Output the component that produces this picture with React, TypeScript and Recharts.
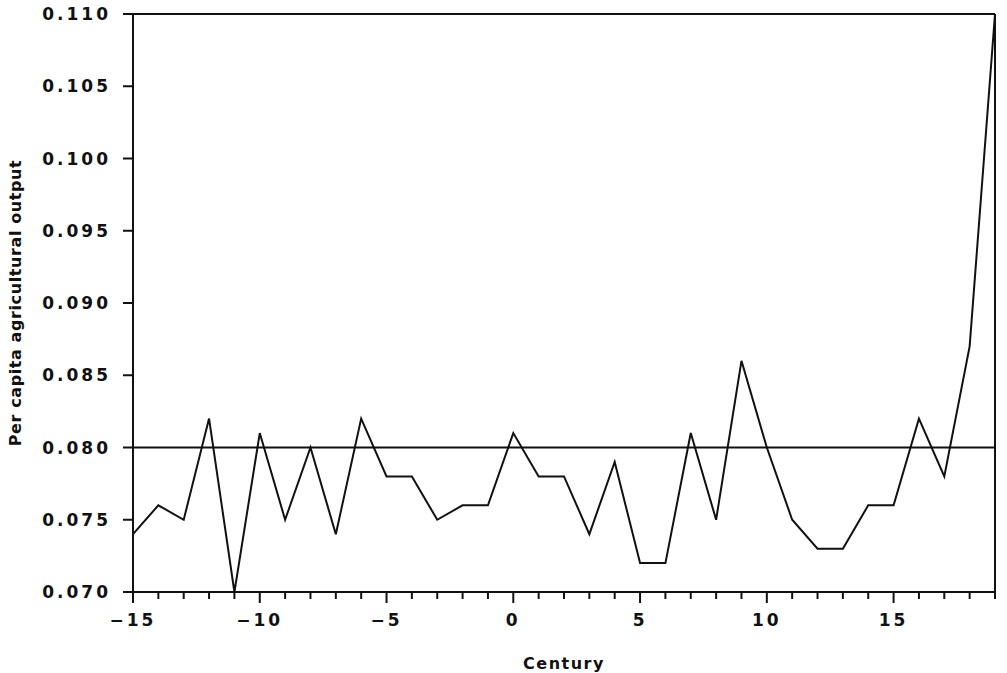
import { LineChart, Line, XAxis, YAxis, ReferenceLine, Label } from "recharts";

const centuries = [
  -15, -14, -13, -12, -11, -10, -9, -8, -7, -6, -5, -4, -3, -2, -1, 0, 1, 2,
  3, 4, 5, 6, 7, 8, 9, 10, 11, 12, 13, 14, 15, 16, 17, 18, 19,
];

const output = [
  0.074, 0.076, 0.075, 0.082, 0.07, 0.081, 0.075, 0.08, 0.074, 0.082, 0.078,
  0.078, 0.075, 0.076, 0.076, 0.081, 0.078, 0.078, 0.074, 0.079, 0.072, 0.072,
  0.081, 0.075, 0.086, 0.08, 0.075, 0.073, 0.073, 0.076, 0.076, 0.082, 0.078,
  0.087, 0.11,
];

const yTicks = [0.07, 0.075, 0.08, 0.085, 0.09, 0.095, 0.1, 0.105, 0.11];
const baseline = 0.08;

const data = centuries.map((c, i) => ({ century: c, value: output[i] }));

const FONT = "'DejaVu Sans', sans-serif";
const INK = "#111";

interface TickProps {
  x?: number;
  y?: number;
  payload?: { value: number };
}

function CenturyTick(props: TickProps) {
  const { x = 0, y = 0, payload } = props;
  const v = payload ? payload.value : 0;
  const major = v % 5 === 0;
  return (
    <g>
      <line x1={x} x2={x} y1={y} y2={y + (major ? 11 : 7)} stroke={INK} strokeWidth={2} />
      {major && (
        <text
          x={x}
          y={y + 34}
          textAnchor="middle"
          fill={INK}
          fontSize={17}
          fontFamily={FONT}
          fontWeight="bold"
          letterSpacing={3}
        >
          {v < 0 ? "\u2212" + Math.abs(v) : String(v)}
        </text>
      )}
    </g>
  );
}

export default function App() {
  return (
    <div style={{ position: "absolute", left: 0, top: 0, background: "#fff" }}>
      <LineChart
        width={1007}
        height={673}
        data={data}
        margin={{ top: 14, right: 12, bottom: 0, left: 0 }}
      >
        <XAxis
          dataKey="century"
          type="number"
          domain={[-15, 19]}
          ticks={centuries}
          interval={0}
          tick={<CenturyTick />}
          tickLine={false}
          tickSize={0}
          tickMargin={0}
          height={81}
          axisLine={{ stroke: INK, strokeWidth: 2 }}
        >
          <Label
            value="Century"
            position="insideBottom"
            offset={4}
            fill={INK}
            fontSize={16}
            fontFamily={FONT}
            fontWeight="bold"
            letterSpacing={1.5}
          />
        </XAxis>
        <YAxis
          type="number"
          domain={[0.07, 0.11]}
          ticks={yTicks}
          interval={0}
          width={133}
          tickSize={10}
          tickMargin={12}
          tickFormatter={(v: number) => v.toFixed(3)}
          tick={{ fill: INK, fontSize: 17, fontFamily: FONT, fontWeight: "bold", letterSpacing: 3 }}
          tickLine={{ stroke: INK, strokeWidth: 2 }}
          axisLine={{ stroke: INK, strokeWidth: 2 }}
        >
          <Label
            value="Per capita agricultural output"
            angle={-90}
            position="insideLeft"
            offset={15}
            style={{ textAnchor: "middle" }}
            fill={INK}
            fontSize={16}
            fontFamily={FONT}
            fontWeight="bold"
            letterSpacing={0.6}
          />
        </YAxis>
        <ReferenceLine y={0.11} stroke={INK} strokeWidth={2} />
        <ReferenceLine x={19} stroke={INK} strokeWidth={2} />
        <ReferenceLine y={baseline} stroke={INK} strokeWidth={2} />
        <Line
          type="linear"
          dataKey="value"
          stroke={INK}
          strokeWidth={2}
          dot={false}
          isAnimationActive={false}
        />
      </LineChart>
    </div>
  );
}
